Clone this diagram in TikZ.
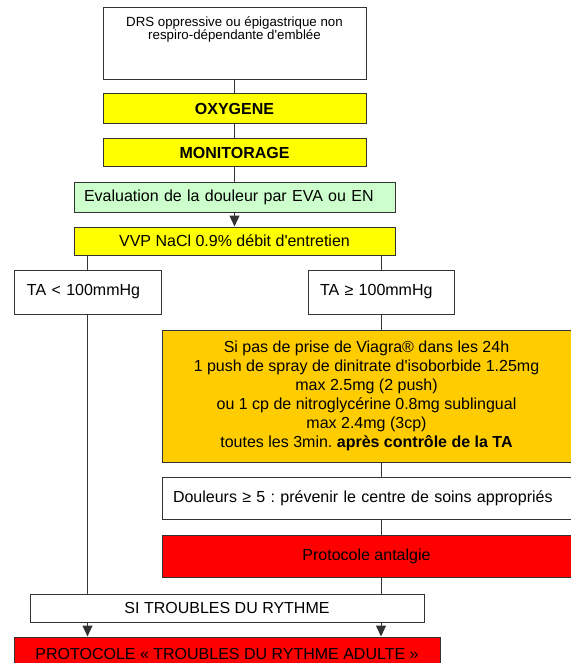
\documentclass[tikz,border=0pt]{standalone}
\usepackage{fontspec}
\setmainfont{Liberation Sans}[Ligatures=TeXOff]
\usetikzlibrary{arrows.meta}
\definecolor{trait}{HTML}{333333}
\definecolor{jaune}{HTML}{FFFF00}
\definecolor{vertpale}{HTML}{CCFFCC}
\definecolor{orangebox}{HTML}{FFCC00}
\definecolor{rouge}{HTML}{FF0000}
\frenchspacing

\begin{document}
\begin{tikzpicture}[x=1pt,y=-1pt,>={Triangle[length=11pt,width=10pt]},line cap=round,
  box/.style={draw=trait,line width=1pt,inner sep=0pt,font=\fontsize{16}{19}\selectfont},
  gauche/.style={box,align=left},
  lien/.style={draw=trait,line width=1pt}]
\useasboundingbox (0,0) rectangle (570,663);
\node[box,anchor=north,minimum width=263,text height=32,text depth=40,align=center,
  font=\fontsize{13.3}{13}\selectfont] (drs) at (234.5,7)
  {DRS oppressive ou épigastrique non\\respiro-dépendante d'emblée};
\node[box,fill=jaune,minimum width=263,minimum height=30] (oxy) at (234.5,109) {\textbf{OXYGENE}};
\node[box,fill=jaune,minimum width=263,minimum height=28] (monito) at (234.5,153) {\textbf{MONITORAGE}};
\node[gauche,fill=vertpale,text width=301,inner xsep=10pt,minimum height=30] (eva) at (234.5,197)
  {Evaluation de la douleur par EVA ou EN};
\node[box,fill=jaune,minimum width=321,minimum height=28] (vvp) at (234.5,241) {VVP NaCl 0.9\% débit d'entretien};
\node[gauche,text width=121,inner xsep=13pt,minimum height=44] (tainf) at (87.5,292) {TA < 100mmHg};
\node[gauche,text width=122,inner xsep=12pt,minimum height=44] (tasup) at (381,292) {TA ≥ 100mmHg};
\node[box,fill=orangebox,minimum width=409,minimum height=132,align=center] (nitro) at (366.5,396)
  {Si pas de prise de Viagra® dans les 24h\\
   1 push de spray de dinitrate d'isoborbide 1.25mg\\
   max 2.5mg (2 push)\\
   ou 1 cp de nitroglycérine 0.8mg sublingual\\
   max 2.4mg (3cp)\\
   toutes les 3min. \textbf{après contrôle de la TA}};
\node[gauche,text width=387,inner xsep=11pt,minimum height=42] (douleur) at (366.5,498)
  {Douleurs ≥ 5 : prévenir le centre de soins appropriés};
\node[box,fill=rouge,minimum width=409,minimum height=42] (antalgie) at (366.5,556) {Protocole antalgie};
\node[box,minimum width=394,minimum height=28] (troubles) at (227,608) {SI TROUBLES DU RYTHME};
\node[box,fill=rouge,minimum width=426,minimum height=34] (protocole) at (227,654)
  {PROTOCOLE « TROUBLES DU RYTHME ADULTE »};

\draw[lien] (drs) -- (oxy);
\draw[lien] (oxy) -- (monito);
\draw[lien] (monito) -- (eva);
\draw[lien,->] (eva) -- (vvp);
\draw[lien] (vvp.south -| tainf) -- (tainf);
\draw[lien] (vvp.south -| tasup) -- (tasup);
\draw[lien] (tasup) -- (tasup |- nitro.north);
\draw[lien] (tasup |- nitro.south) -- (tasup |- douleur.north);
\draw[lien] (tasup |- douleur.south) -- (tasup |- antalgie.north);
\draw[lien] (tasup |- antalgie.south) -- (tasup |- troubles.north);
\draw[lien] (tainf) -- (tainf |- troubles.north);
\draw[lien,->] (tainf |- troubles.south) -- (tainf |- protocole.north);
\draw[lien,->] (tasup |- troubles.south) -- (tasup |- protocole.north);
\end{tikzpicture}
\end{document}
